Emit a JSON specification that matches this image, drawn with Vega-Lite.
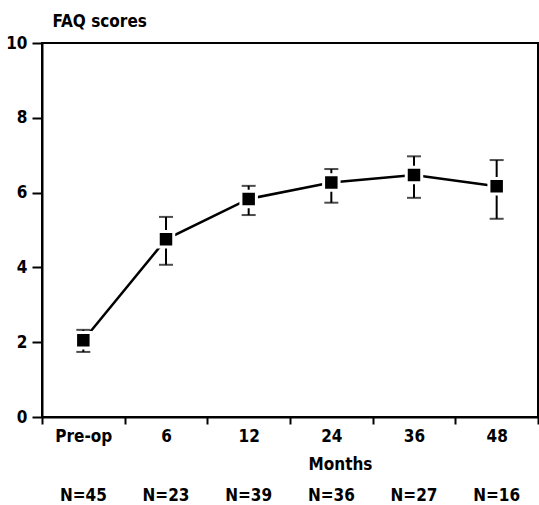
{
  "$schema": "https://vega.github.io/schema/vega-lite/v6.json",
  "width": 496,
  "height": 374,
  "autosize": {"type": "none"},
  "padding": {"left": 42, "top": 43, "right": 1, "bottom": 88},
  "background": "white",
  "config": {
    "view": {"stroke": "black", "strokeWidth": 2},
    "font": "DejaVu Sans Condensed, Roboto, sans-serif",
    "axis": {
      "domainColor": "black", "domainWidth": 2, "tickColor": "black", "tickWidth": 2,
      "labelColor": "black", "titleColor": "black", "grid": false,
      "labelFont": "DejaVu Sans Condensed, Roboto, sans-serif", "titleFont": "DejaVu Sans Condensed, Roboto, sans-serif",
      "labelFontSize": 17, "labelFontWeight": "bold", "titleFontSize": 17, "titleFontWeight": "bold"
    }
  },
  "data": {
    "values": [
      {"time": "Pre-op", "score": 2.05, "lo": 1.74, "hi": 2.33, "n": "N=45"},
      {"time": "6", "score": 4.75, "lo": 4.07, "hi": 5.35, "n": "N=23"},
      {"time": "12", "score": 5.83, "lo": 5.40, "hi": 6.18, "n": "N=39"},
      {"time": "24", "score": 6.27, "lo": 5.73, "hi": 6.63, "n": "N=36"},
      {"time": "36", "score": 6.47, "lo": 5.86, "hi": 6.97, "n": "N=27"},
      {"time": "48", "score": 6.17, "lo": 5.30, "hi": 6.87, "n": "N=16"}
    ]
  },
  "encoding": {
    "x": {
      "field": "time", "type": "ordinal", "sort": null,
      "scale": {"type": "band", "paddingInner": 0, "paddingOuter": 0},
      "axis": {
        "tickBand": "extent", "tickSize": 7, "labelAngle": 0, "labelPadding": 4,
        "title": "Months", "titleX": 298, "titleY": 52, "titleAlign": "center", "titleBaseline": "alphabetic"
      }
    }
  },
  "layer": [
    {
      "mark": {"type": "rule", "color": "black", "strokeWidth": 2},
      "encoding": {
        "y": {
          "field": "lo", "type": "quantitative",
          "scale": {"domain": [0, 10], "nice": false, "zero": false},
          "axis": {
            "values": [0, 1, 2, 3, 4, 5, 6, 7, 8, 9, 10],
            "labelExpr": "datum.value % 2 === 0 ? datum.label : ''",
            "tickSize": {"condition": {"test": "datum.value % 2 === 1", "value": 6}, "value": 10},
            "labelPadding": 5,
            "title": "FAQ scores", "titleAngle": 0, "titleX": 10, "titleY": -22,
            "titleAlign": "left", "titleBaseline": "middle"
          }
        },
        "y2": {"field": "hi"}
      }
    },
    {
      "mark": {"type": "tick", "color": "black", "size": 14, "thickness": 2},
      "encoding": {"y": {"field": "lo", "type": "quantitative"}}
    },
    {
      "mark": {"type": "tick", "color": "black", "size": 14, "thickness": 2},
      "encoding": {"y": {"field": "hi", "type": "quantitative"}}
    },
    {
      "mark": {"type": "line", "color": "black", "strokeWidth": 2.5},
      "encoding": {"y": {"field": "score", "type": "quantitative"}}
    },
    {
      "mark": {"type": "point", "shape": "square", "filled": true, "fill": "black", "stroke": "white", "strokeWidth": 3, "size": 240, "opacity": 1},
      "encoding": {"y": {"field": "score", "type": "quantitative"}}
    },
    {
      "mark": {"type": "text", "font": "DejaVu Sans Condensed, Roboto, sans-serif", "fontSize": 17, "fontWeight": "bold", "baseline": "alphabetic", "align": "center", "color": "black"},
      "encoding": {"y": {"datum": -2.245}, "text": {"field": "n"}}
    }
  ]
}
